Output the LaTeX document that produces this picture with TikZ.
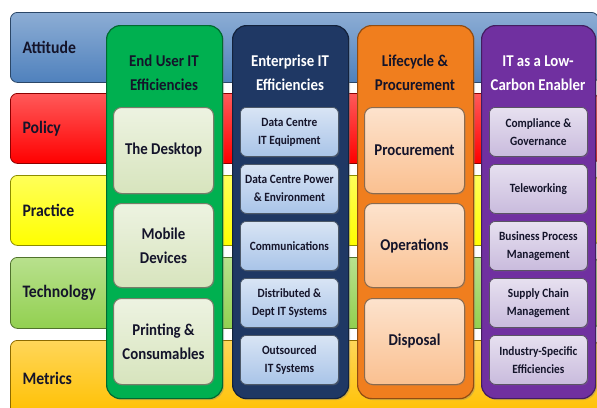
\documentclass[tikz,border=0pt]{standalone}
\usepackage{fontspec}
\setmainfont{Carlito}[FakeStretch=0.9]
\usetikzlibrary{shadows}
\definecolor{cAtt}{HTML}{4F81BD}
\definecolor{cPol}{HTML}{FF0000}
\definecolor{cPra}{HTML}{FFFF00}
\definecolor{cTec}{HTML}{92D050}
\definecolor{cMet}{HTML}{FFC000}
\definecolor{cGreen}{HTML}{00B050}
\definecolor{cNavy}{HTML}{1F3864}
\definecolor{cOrange}{HTML}{F07E1E}
\definecolor{cPurple}{HTML}{7030A0}
\definecolor{iGreen}{HTML}{D7E4BD}
\definecolor{iBlue}{HTML}{A9C4E8}
\definecolor{iOrange}{HTML}{FAC090}
\definecolor{iPurple}{HTML}{C9BBDD}
\definecolor{txt}{HTML}{14142A}
\tikzset{
  band/.style={anchor=north west, rounded corners=7pt, draw=#1!55!black, line width=0.8pt,
    top color=#1!65!white, bottom color=#1, minimum width=588pt, inner sep=0pt},
  rowlab/.style={anchor=west, font=\bfseries\fontsize{17.5}{19}\selectfont, text=txt},
  col/.style={anchor=north west, rounded corners=14pt, draw=#1!60!black, line width=1.2pt,
    fill=#1, minimum height=373pt, inner sep=0pt,
    drop shadow={opacity=0.35, shadow xshift=1.5pt, shadow yshift=-1.5pt}},
  head/.style={align=center, font=\bfseries\fontsize{16.5}{24}\selectfont, text=#1},
  bigbox/.style={anchor=north west, rounded corners=8pt, draw=#1!55!black, line width=1pt,
    top color=#1!45!white, bottom color=#1, minimum width=100pt, inner sep=2pt,
    align=center, font=\bfseries\fontsize{16.5}{24}\selectfont, text=txt,
    drop shadow={opacity=0.3, shadow xshift=1pt, shadow yshift=-1pt}},
  smallbox/.style={anchor=north west, rounded corners=6pt, draw=#1!45!black, line width=0.8pt,
    top color=#1!45!white, bottom color=#1, minimum width=98pt, minimum height=49pt, inner sep=1pt,
    align=center, font=\bfseries\fontsize{12.6}{18}\selectfont, text=txt,
    drop shadow={opacity=0.3, shadow xshift=1pt, shadow yshift=-1pt}},
}
\begin{document}
\begin{tikzpicture}[x=1pt, y=-1pt]
\useasboundingbox (0,0) rectangle (597,407);
\clip (0,0) rectangle (597,407);
\fill[white] (0,0) rectangle (597,407);
% row bands
\node[band=cAtt, minimum height=70pt] (att) at (10,12) {};
\node[band=cPol, minimum height=70pt] (pol) at (10,93) {};
\node[band=cPra, minimum height=70pt] (pra) at (10,175) {};
\node[band=cTec, minimum height=71pt] (tec) at (10,257) {};
\node[band=cMet, minimum height=75pt] (met) at (10,340) {};
\node[rowlab] (attL) at ([xshift=9pt]att.west) {Attitude};
\node[rowlab] (polL) at ([xshift=9pt]pol.west) {Policy};
\node[rowlab] (praL) at ([xshift=9pt]pra.west) {Practice};
\node[rowlab] (tecL) at ([xshift=9pt]tec.west) {Technology};
\node[rowlab] (metL) at ([xshift=9pt,yshift=-1pt]met.west) {Metrics};
% columns
\node[col=cGreen, minimum width=116pt] (cg) at (106,25) {};
\node[col=cNavy, minimum width=116pt] (cn) at (232,25) {};
\node[col=cOrange, minimum width=116pt] (co) at (357,25) {};
\node[col=cPurple, minimum width=114pt] (cp) at (481,25) {};
% headers
\node[head=txt] (hg) at (164,73) {End User IT\\Efficiencies};
\node[head=white] (hn) at (290,73) {Enterprise IT\\Efficiencies};
\node[head=txt] (ho) at (415,73) {Lifecycle \&\\Procurement};
\node[head=white] (hp) at (538,73) {IT as a Low-\\Carbon Enabler};
% green boxes
\node[bigbox=iGreen, minimum height=86pt] (g1) at (113,107) {The Desktop};
\node[bigbox=iGreen, minimum height=84pt] (g2) at (113,203) {Mobile\\Devices};
\node[bigbox=iGreen, minimum height=86pt] (g3) at (113,298) {Printing \&\\Consumables};
% orange boxes
\node[bigbox=iOrange, minimum height=86pt] (o1) at (364,107) {Procurement};
\node[bigbox=iOrange, minimum height=84pt] (o2) at (364,203) {Operations};
\node[bigbox=iOrange, minimum height=86pt] (o3) at (364,298) {Disposal};
% navy boxes
\node[smallbox=iBlue] (n1) at (240,107) {Data Centre\\IT Equipment};
\node[smallbox=iBlue] (n2) at (240,164) {Data Centre Power\\\& Environment};
\node[smallbox=iBlue] (n3) at (240,221) {Communications};
\node[smallbox=iBlue] (n4) at (240,278) {Distributed \&\\Dept IT Systems};
\node[smallbox=iBlue] (n5) at (240,335) {Outsourced\\IT Systems};
% purple boxes
\node[smallbox=iPurple] (p1) at (489,107) {Compliance \&\\Governance};
\node[smallbox=iPurple] (p2) at (489,164) {Teleworking};
\node[smallbox=iPurple] (p3) at (489,221) {Business Process\\Management};
\node[smallbox=iPurple] (p4) at (489,278) {Supply Chain\\Management};
\node[smallbox=iPurple] (p5) at (489,335) {Industry-Specific\\Efficiencies};
\end{tikzpicture}
\end{document}
